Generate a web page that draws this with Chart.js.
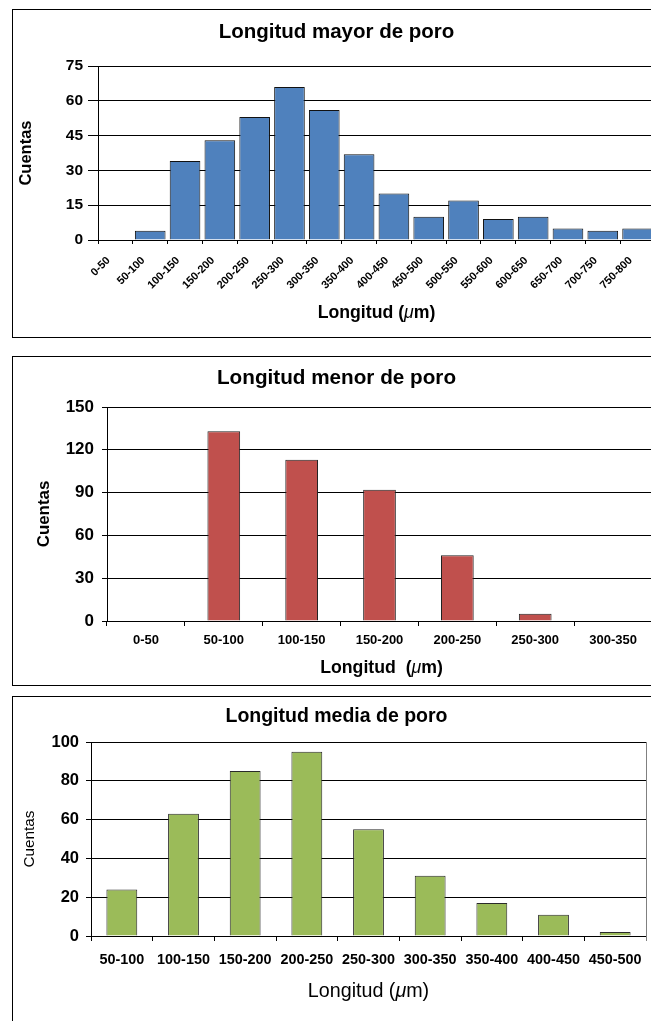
<!DOCTYPE html>
<html>
<head>
<meta charset="utf-8">
<script src="https://cdn.jsdelivr.net/npm/chart.js@4.4.0/dist/chart.umd.min.js"></script>
<style>
html,body{margin:0;padding:0;width:651px;height:1021px;overflow:hidden;background:#fff;}
.frame{position:absolute;left:12px;width:649px;box-sizing:border-box;border:1px solid #000;}
.frame canvas{position:absolute;left:-1px;top:-1px;}
</style>
</head>
<body>
<div class="frame" style="top:9px;height:329px"><canvas id="c1" width="649" height="329"></canvas></div>
<div class="frame" style="top:356px;height:330px"><canvas id="c2" width="649" height="330"></canvas></div>
<div class="frame" style="top:696px;height:340px"><canvas id="c3" width="649" height="330"></canvas></div>
<script>
// ---- Data ----
const mayorCategories = ['0-50','50-100','100-150','150-200','200-250','250-300','300-350','350-400','400-450','450-500','500-550','550-600','600-650','650-700','700-750','750-800'];
const mayorCounts = [0,4,34,43,53,66,56,37,20,10,17,9,10,5,4,5];
const mayorYTicks = [0,15,30,45,60,75];

const menorCategories = ['0-50','50-100','100-150','150-200','200-250','250-300','300-350'];
const menorCounts = [0,133,113,92,46,5,0];
const menorYTicks = [0,30,60,90,120,150];

const mediaCategories = ['50-100','100-150','150-200','200-250','250-300','300-350','350-400','400-450','450-500'];
const mediaCounts = [24,63,85,95,55,31,17,11,2];
const mediaYTicks = [0,20,40,60,80,100];

const FAM = '"Liberation Sans", Arial, sans-serif';
Chart.defaults.font.family = FAM;
Chart.defaults.color = '#000';

const headingPlugin = {
  id: 'heading',
  afterDraw(chart, args, o) {
    const ctx = chart.ctx;
    ctx.save();
    ctx.fillStyle = '#000';
    ctx.textBaseline = 'alphabetic';
    // main title
    ctx.textAlign = 'center';
    ctx.font = o.titleFont;
    ctx.fillText(o.title, chart.width / 2, o.titleBaseline);
    // x-axis title with italic mu
    ctx.textAlign = 'left';
    let total = 0;
    o.xParts.forEach(p => { ctx.font = p.font; total += ctx.measureText(p.text).width; });
    const ca = chart.chartArea;
    let x = (ca.left + ca.right) / 2 - total / 2 + (o.xShift || 0);
    o.xParts.forEach(p => { ctx.font = p.font; ctx.fillText(p.text, x, o.xBaseline); x += ctx.measureText(p.text).width; });
    // optional right border of plot area
    if (o.rightBorder) {
      ctx.strokeStyle = o.rightBorder;
      ctx.lineWidth = 1;
      ctx.beginPath();
      const rx = Math.round(ca.right) + 0.5;
      ctx.moveTo(rx, ca.top);
      ctx.lineTo(rx, ca.bottom + 5);
      ctx.stroke();
    }
    ctx.restore();
  }
};

function xTitleParts(before, size, weight) {
  return [
    {text: before, font: weight + ' ' + size + 'px ' + FAM},
    {text: 'μ', font: 'italic ' + size + 'px ' + FAM},
    {text: 'm)', font: weight + ' ' + size + 'px ' + FAM}
  ];
}

function makeChart(id, cfg) {
  const yt = cfg.yTicks;
  return new Chart(document.getElementById(id), {
    type: 'bar',
    data: {
      labels: cfg.labels,
      datasets: [{
        data: cfg.values,
        backgroundColor: cfg.color,
        borderColor: cfg.border,
        borderWidth: 1,
        barPercentage: cfg.barPct,
        categoryPercentage: 1
      }]
    },
    options: {
      responsive: false,
      animation: false,
      events: [],
      layout: { padding: cfg.padding },
      plugins: {
        legend: { display: false },
        tooltip: { enabled: false },
        title: { display: false },
        heading: cfg.heading
      },
      scales: {
        x: {
          ticks: Object.assign({ autoSkip: false, color: '#000' }, cfg.xTicks),
          grid: { display: true, drawOnChartArea: false, drawTicks: true, tickLength: cfg.xTickLen, color: '#000', offset: true },
          border: { display: true, color: '#000', width: 1 },
          afterFit(s) { s.height = cfg.xHeight; }
        },
        y: {
          min: yt[0],
          max: yt[yt.length - 1],
          ticks: { stepSize: yt[1] - yt[0], color: '#000', font: cfg.yFont, padding: cfg.yPad },
          grid: { color: '#000', lineWidth: 1, tickLength: cfg.yTickLen, drawTicks: true },
          border: { display: true, color: '#000', width: 1 },
          title: { display: true, text: 'Cuentas', color: '#000', font: cfg.yTitleFont, padding: { top: cfg.yTitlePad, bottom: 0 } },
          afterFit(s) { s.width = cfg.yWidth; }
        }
      }
    },
    plugins: [headingPlugin]
  });
}

makeChart('c1', {
  labels: mayorCategories, values: mayorCounts, yTicks: mayorYTicks,
  color: '#4F81BD', border: '#111', barPct: 0.88,
  padding: { left: 0, top: 57, right: 6, bottom: 0 },
  xHeight: 98, yWidth: 86,
  xTickLen: 4,
  xTicks: { maxRotation: 45, minRotation: 45, font: { size: 11, weight: 'bold' }, padding: 10, labelOffset: -7 },
  yFont: { size: 15.5, weight: 'bold' }, yPad: 5, yTickLen: 10,
  yTitleFont: { size: 16.5, weight: 'bold' }, yTitlePad: 5,
  heading: {
    title: 'Longitud mayor de poro', titleFont: 'bold 20.5px ' + FAM, titleBaseline: 28.7,
    xParts: xTitleParts('Longitud (', 17.7, 'bold'), xBaseline: 308.5
  }
});

makeChart('c2', {
  labels: menorCategories, values: menorCounts, yTicks: menorYTicks,
  color: '#C0504D', border: '#222', barPct: 0.42,
  padding: { left: 0, top: 51, right: 9, bottom: 0 },
  xHeight: 65, yWidth: 95,
  xTickLen: 5,
  xTicks: { maxRotation: 0, minRotation: 0, font: { size: 13, weight: 'bold' }, padding: 7 },
  yFont: { size: 17, weight: 'bold' }, yPad: 8, yTickLen: 5,
  yTitleFont: { size: 16.9, weight: 'bold' }, yTitlePad: 22,
  heading: {
    title: 'Longitud menor de poro', titleFont: 'bold 20.7px ' + FAM, titleBaseline: 27.5,
    xParts: xTitleParts('Longitud  (', 17.7, 'bold'), xBaseline: 317.3, xShift: 2
  }
});

makeChart('c3', {
  labels: mediaCategories, values: mediaCounts, yTicks: mediaYTicks,
  color: '#9BBB59', border: '#2a2a2a', barPct: 0.5,
  padding: { left: 0, top: 46, right: 15, bottom: 0 },
  xHeight: 90, yWidth: 79,
  xTickLen: 5,
  xTicks: { maxRotation: 0, minRotation: 0, font: { size: 14.4, weight: 'bold' }, padding: 10 },
  yFont: { size: 16.5, weight: 'bold' }, yPad: 7, yTickLen: 5,
  yTitleFont: { size: 15.3, weight: 'normal' }, yTitlePad: 9,
  heading: {
    title: 'Longitud media de poro', titleFont: 'bold 19.5px ' + FAM, titleBaseline: 26.3,
    xParts: xTitleParts('Longitud (', 19.7, 'normal'), xBaseline: 300.7,
    rightBorder: '#808080'
  }
});
</script>
</body>
</html>
